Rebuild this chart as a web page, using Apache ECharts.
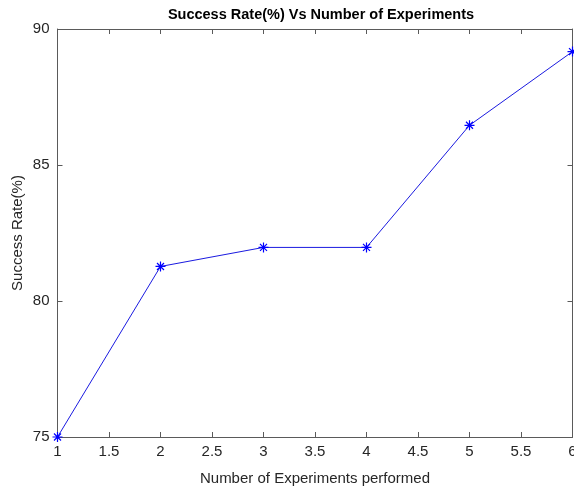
<!DOCTYPE html>
<html>
<head>
<meta charset="utf-8">
<script src="https://cdn.jsdelivr.net/npm/echarts@6/dist/echarts.min.js"></script>
<style>
html,body{margin:0;padding:0;background:#fff;}
#chart{width:574px;height:488px;}
</style>
</head>
<body>
<div id="chart"></div>
<script>
const experiments = [1, 2, 3, 4, 5, 6];
const successRate = [75, 81.27, 81.97, 81.97, 86.46, 89.17];
const xTicks = [1, 1.5, 2, 2.5, 3, 3.5, 4, 4.5, 5, 5.5, 6];
const yTicks = [75, 80, 85, 90];

const axisColor = '#5a5a5a';
const textColor = '#262626';
const font = 'Liberation Sans, Arial, sans-serif';
const asterisk = 'path://M0,5L10,5M5,0L5,10M1.5,1.5L8.5,8.5M8.5,1.5L1.5,8.5';

const chart = echarts.init(document.getElementById('chart'));
const baseX = {
  type: 'value', min: 1, max: 6, interval: 0.5,
  axisLine: {show: true, onZero: false, lineStyle: {color: axisColor, width: 1}},
  axisTick: {show: true, inside: true, length: 5, lineStyle: {color: axisColor}},
  splitLine: {show: false}
};
const baseY = {
  type: 'value', min: 75, max: 90, interval: 5,
  axisLine: {show: true, onZero: false, lineStyle: {color: axisColor, width: 1}},
  axisTick: {show: true, inside: true, length: 5, lineStyle: {color: axisColor}},
  splitLine: {show: false}
};
chart.setOption({
  animation: false,
  backgroundColor: '#fff',
  title: {
    text: 'Success Rate(%) Vs Number of Experiments',
    left: 316, top: 2, textAlign: 'center',
    textStyle: {fontFamily: font, fontSize: 14.5, fontWeight: 'bold', color: '#000'}
  },
  grid: {left: 57.5, right: 1.5, top: 29, bottom: 51, containLabel: false, outerBoundsMode: 'none'},
  xAxis: [
    Object.assign({}, baseX, {
      position: 'bottom',
      name: 'Number of Experiments performed', nameLocation: 'middle', nameGap: 34,
      nameMoveOverlap: false,
      nameTextStyle: {fontFamily: font, fontSize: 15, color: textColor},
      axisLabel: {show: true, margin: 7, fontFamily: font, fontSize: 15, color: textColor,
        formatter: v => xTicks.includes(v) ? String(v) : ''}
    }),
    Object.assign({}, baseX, {position: 'top', axisLabel: {show: false}})
  ],
  yAxis: [
    Object.assign({}, baseY, {
      position: 'left',
      name: 'Success Rate(%)', nameLocation: 'middle', nameGap: 32,
      nameMoveOverlap: false,
      nameTextStyle: {fontFamily: font, fontSize: 15, color: textColor},
      axisLabel: {show: true, margin: 8, fontFamily: font, fontSize: 15, color: textColor,
        formatter: v => yTicks.includes(v) ? String(v) : ''}
    }),
    Object.assign({}, baseY, {position: 'right', axisLabel: {show: false}})
  ],
  series: [{
    type: 'line',
    data: experiments.map((x, i) => [x, successRate[i]]),
    lineStyle: {color: '#1a1ae0', width: 1},
    symbol: asterisk,
    symbolSize: 10,
    showAllSymbol: true,
    clip: false,
    itemStyle: {color: 'rgba(0,0,0,0)', borderColor: '#0000ff', borderWidth: 1.2}
  }]
});
</script>
</body>
</html>
